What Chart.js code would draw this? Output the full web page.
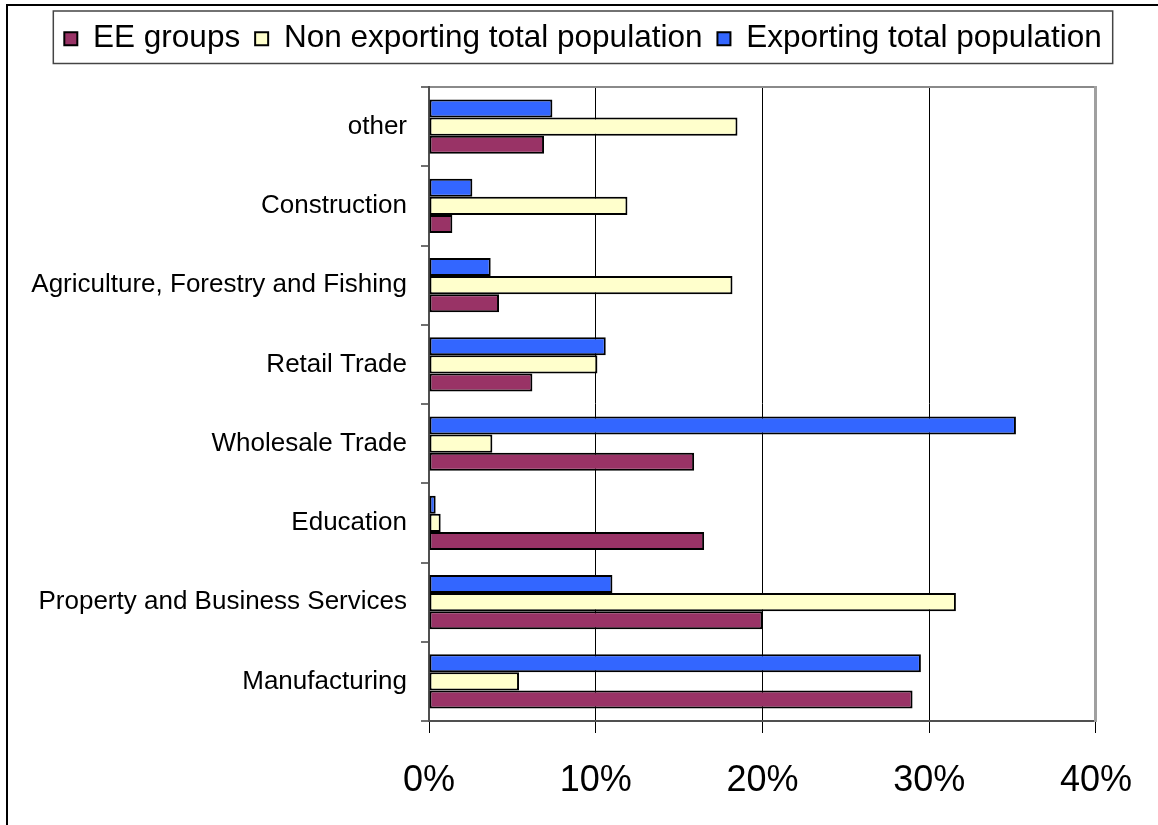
<!DOCTYPE html>
<html>
<head>
<meta charset="utf-8">
<script src="https://cdn.jsdelivr.net/npm/chart.js@4.4.1/dist/chart.umd.min.js"></script>
<style>
  html, body { margin: 0; padding: 0; background: #fff; overflow: hidden; }
  #wrap { position: relative; width: 1158px; height: 825px; }
</style>
</head>
<body>
<div id="wrap"><canvas id="grafico"></canvas></div>
<script>
// sectors, top to bottom
const sectores = [
  "other",
  "Construction",
  "Agriculture, Forestry and Fishing",
  "Retail Trade",
  "Wholesale Trade",
  "Education",
  "Property and Business Services",
  "Manufacturing"
];

// share of each population by sector, in %
const exportadores   = [7.4, 2.6, 3.7, 10.6, 35.2, 0.4, 11.0, 29.5];
const noExportadores = [18.5, 11.9, 18.2, 10.1, 3.8, 0.7, 31.6, 5.4];
const grupoEE        = [6.9, 1.4, 4.2, 6.2, 15.9, 16.5, 20.0, 29.0];

const ticksX = [0, 10, 20, 30, 40];

Chart.defaults.font.family = "'Liberation Sans', Arial, sans-serif";
Chart.defaults.color = "#000";

// white page, black frame on top/left, and the box round the legend
const marco = {
  id: "marco",
  beforeDraw(chart) {
    const ctx = chart.ctx;
    ctx.save();
    ctx.fillStyle = "#fff";
    ctx.fillRect(0, 0, chart.width, chart.height);
    ctx.strokeStyle = "#000";
    ctx.lineWidth = 2;
    ctx.beginPath();
    ctx.moveTo(6, 5);
    ctx.lineTo(chart.width, 5);
    ctx.moveTo(7, 4);
    ctx.lineTo(7, chart.height);
    ctx.stroke();
    ctx.restore();
  },
  afterDraw(chart) {
    const lg = chart.legend;
    if (!lg || !lg.legendHitBoxes) return;
    const hb = lg.legendHitBoxes;
    const izq = Math.min(...hb.map(h => h.left)) - 11;
    const der = Math.max(...hb.map(h => h.left + h.width)) + 11;
    const ctx = chart.ctx;
    ctx.save();
    ctx.strokeStyle = "#444";
    ctx.lineWidth = 1.5;
    ctx.strokeRect(izq, lg.top + 3, der - izq, lg.bottom - lg.top - 4);
    ctx.restore();
  }
};

function dataset(label, data, color) {
  return {
    label,
    data,
    backgroundColor: color,
    borderColor: "#000",
    borderWidth: 2,
    borderSkipped: false,
    barPercentage: 1.0,
    categoryPercentage: 0.685
  };
}

new Chart(document.getElementById("grafico"), {
  type: "bar",
  data: {
    labels: sectores,
    datasets: [
      dataset("Exporting total population", exportadores, "#3366ff"),
      dataset("Non exporting total population", noExportadores, "#ffffcc"),
      dataset("EE groups", grupoEE, "#993366")
    ]
  },
  options: {
    indexAxis: "y",
    responsive: true,
    maintainAspectRatio: false,
    animation: false,
    layout: { padding: { top: 8, left: 8, right: 0, bottom: 0 } },
    plugins: {
      legend: {
        position: "top",
        reverse: true,
        labels: {
          font: { size: 31.5 },
          color: "#000",
          boxWidth: 13,
          boxHeight: 13,
          padding: 15
        }
      },
      tooltip: { enabled: false }
    },
    scales: {
      x: {
        type: "linear",
        position: "bottom",
        min: 0,
        max: 40,
        afterBuildTicks: s => { s.ticks = ticksX.map(v => ({ value: v })); },
        afterFit: s => { s.height = 104; },
        ticks: {
          font: { size: 36 },
          color: "#000",
          padding: 26,
          callback: v => v + "%"
        },
        grid: {
          color: c => (c.tick && (c.tick.value === 0 || c.tick.value === 40)) ? "rgba(0,0,0,0)" : "#000",
          lineWidth: 1,
          tickColor: "#000",
          tickLength: 12
        },
        border: { display: true, color: "#505050", width: 2 }
      },
      xTop: {
        type: "linear",
        position: "top",
        display: true,
        afterFit: s => { s.height = 22.5; },
        ticks: { display: false },
        grid: { display: false },
        border: { display: true, color: "#8a8a8a", width: 2 }
      },
      y: {
        type: "category",
        position: "left",
        afterFit: s => { s.width = 421; },
        ticks: {
          font: { size: 26 },
          color: "#000",
          padding: 14
        },
        grid: {
          drawOnChartArea: false,
          offset: true,
          tickLength: 8,
          tickColor: "#707070",
          lineWidth: 2
        },
        border: { display: true, color: "#505050", width: 2 }
      },
      yRight: {
        type: "category",
        position: "right",
        display: true,
        afterFit: s => { s.width = 55; },
        ticks: { display: false },
        grid: { display: false },
        border: { display: true, color: "#a0a0a0", width: 3 }
      }
    }
  },
  plugins: [marco]
});
</script>
</body>
</html>
